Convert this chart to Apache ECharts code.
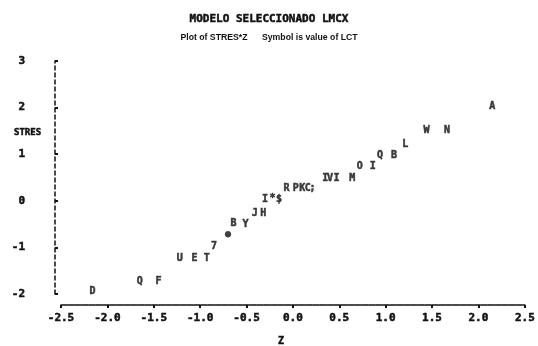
<!DOCTYPE html>
<html>
<head>
<meta charset="utf-8">
<script src="https://cdn.jsdelivr.net/npm/echarts@6/dist/echarts.min.js"></script>
<style>html,body{margin:0;padding:0;background:#fff}#c{width:538px;height:346px}</style>
</head>
<body>
<div id="c"></div>
<script>
var titleText = 'MODELO SELECCIONADO LMCX';
var subtitleText = 'Plot of STRES*Z      Symbol is value of LCT';
var yAxisName = 'STRES';
var xAxisName = 'Z';
var xTickLabels = ['-2.5','-2.0','-1.5','-1.0','-0.5','0.0','0.5','1.0','1.5','2.0','2.5'];
var yTickLabels = ['-2','-1','0','1','2','3'];
var zValues = [-2.16,-1.65,-1.45,-1.22,-1.06,-0.93,-0.85,-0.70,-0.64,-0.51,-0.41,-0.32,-0.30,-0.22,-0.15,-0.07,0.03,0.10,0.16,0.21,0.35,0.40,0.47,0.64,0.72,0.86,0.94,1.09,1.21,1.44,1.66,2.15];
var stresValues = [-1.95,-1.72,-1.72,-1.24,-1.24,-1.24,-0.97,-0.73,-0.49,-0.51,-0.26,-0.26,0.04,0.06,0.02,0.26,0.26,0.26,0.26,0.26,0.49,0.49,0.49,0.47,0.73,0.73,0.97,0.97,1.20,1.50,1.50,2.02];
var lctSymbols = ['D','Q','F','U','E','T','7','\u25CF','B','Y','J','H','I','*','$','R','P','K','C',';','I','V','I','M','O','I','Q','B','L','W','N','A'];

var data = zValues.map(function(z, i){ return [z, stresValues[i], lctSymbols[i]]; });
var ink = '#111';
var mono = '"DejaVu Sans Mono", monospace';
var heavy = {textBorderColor: ink, textBorderWidth: 0.5};

var chart = echarts.init(document.getElementById('c'));
chart.setOption({
  backgroundColor: '#fff',
  animation: false,
  title: [
    {text: titleText, left: 'center', top: 9, textStyle: Object.assign({fontFamily: mono, fontWeight: 'bold', fontSize: 11, color: ink}, heavy)},
    {text: subtitleText, left: 'center', top: 28, textStyle: {fontFamily: '"Liberation Sans", sans-serif', fontWeight: 'bold', fontSize: 8.7, color: ink}},
    {text: yAxisName, left: 9, top: 123, textStyle: Object.assign({fontFamily: mono, fontWeight: 'bold', fontSize: 9, color: ink}, heavy)},
    {text: xAxisName, left: 273, top: 331, textStyle: Object.assign({fontFamily: mono, fontWeight: 'bold', fontSize: 10, color: ink}, heavy)}
  ],
  grid: {left: 61, right: 7, top: 61, bottom: 52},
  xAxis: {
    type: 'value', min: -2.5, max: 2.5, interval: 0.5, offset: 11,
    splitLine: {show: false},
    axisLine: {show: true, onZero: false, lineStyle: {color: ink, width: 1.5, type: [6, 1]}},
    axisTick: {show: true, length: 3, lineStyle: {color: ink, width: 2}},
    axisLabel: Object.assign({
      margin: 8, fontFamily: mono, fontWeight: 'bold', fontSize: 11, color: ink,
      formatter: function(v){ var i = Math.round((v + 2.5) / 0.5); return xTickLabels[i] || ''; }
    }, heavy)
  },
  yAxis: {
    type: 'value', min: -2, max: 3, interval: 1, offset: 6,
    splitLine: {show: false},
    axisLine: {show: true, onZero: false, lineStyle: {color: ink, width: 1.5, type: [4, 3]}},
    axisTick: {show: true, inside: true, length: 3, lineStyle: {color: ink, width: 2}},
    axisLabel: Object.assign({
      margin: 30, fontFamily: mono, fontWeight: 'bold', fontSize: 11, color: ink,
      formatter: function(v){ var i = Math.round(v + 2); return yTickLabels[i] || ''; }
    }, heavy)
  },
  series: [{
    type: 'scatter',
    data: data,
    symbolSize: 1,
    itemStyle: {color: 'rgba(0,0,0,0)'},
    label: Object.assign({
      show: true, position: 'inside',
      fontFamily: mono, fontWeight: 'bold', fontSize: 10, color: ink,
      formatter: function(p){ return p.value[2]; }
    }, heavy),
    labelLayout: {hideOverlap: false}
  }]
});
</script>
</body>
</html>
